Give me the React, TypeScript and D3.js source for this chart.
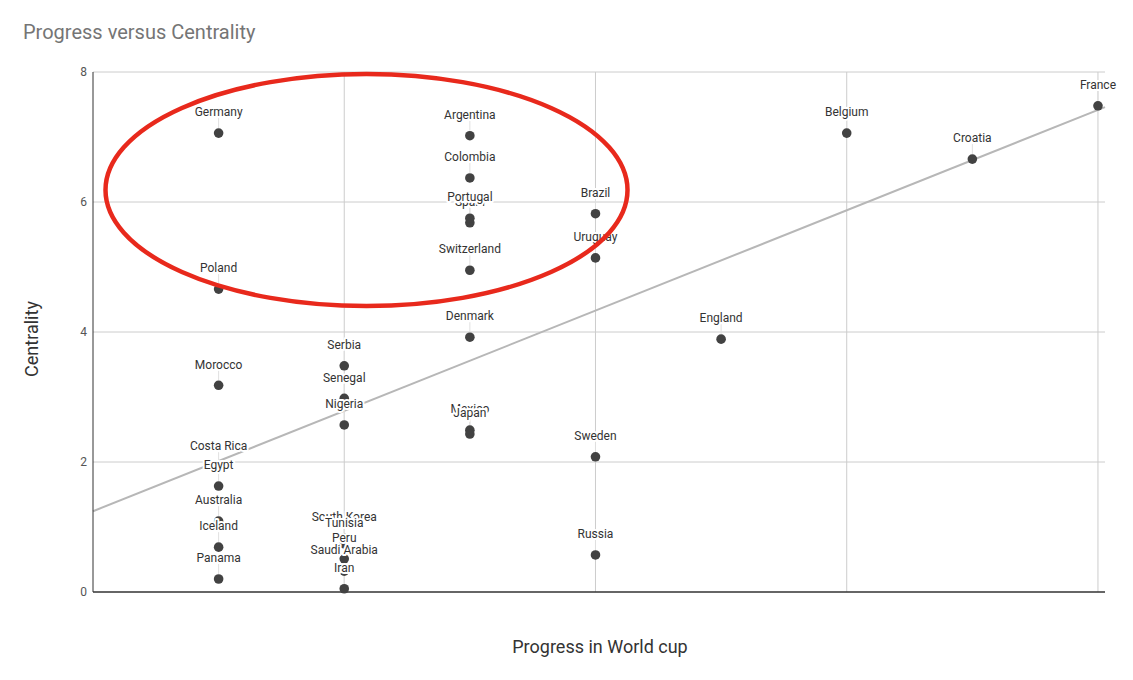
import React from "react";
import * as d3 from "d3";

const teams = [
  "Germany", "Poland", "Morocco", "Costa Rica", "Egypt", "Australia", "Iceland", "Panama",
  "Serbia", "Senegal", "Nigeria", "South Korea", "Tunisia", "Peru", "Saudi Arabia", "Iran",
  "Argentina", "Colombia", "Spain", "Portugal", "Switzerland", "Denmark", "Mexico", "Japan",
  "Brazil", "Uruguay", "Sweden", "Russia",
  "England", "Belgium", "Croatia", "France",
];
const progress = [
  1, 1, 1, 1, 1, 1, 1, 1,
  2, 2, 2, 2, 2, 2, 2, 2,
  3, 3, 3, 3, 3, 3, 3, 3,
  4, 4, 4, 4,
  5, 6, 7, 8,
];
const centrality = [
  7.06, 4.66, 3.18, 1.92, 1.63, 1.09, 0.69, 0.2,
  3.48, 2.98, 2.57, 0.83, 0.74, 0.51, 0.32, 0.05,
  7.02, 6.37, 5.68, 5.75, 4.95, 3.92, 2.49, 2.43,
  5.82, 5.14, 2.08, 0.57,
  3.89, 7.06, 6.66, 7.48,
];
const yTicks = [0, 2, 4, 6, 8];
const xGrid = [2, 4, 6, 8];

const W = 1133;
const H = 680;
const FONT = "Roboto, 'Noto Sans', Arial, sans-serif";

export default function App() {
  const x = d3.scaleLinear().domain([0, 8.056]).range([93, 1105]);
  const y = d3.scaleLinear().domain([0, 8]).range([592, 72]);

  const pts = teams.map((t, i) => ({ t, x: progress[i], y: centrality[i], i }));

  // least-squares trendline
  const mx = d3.mean(progress) as number;
  const my = d3.mean(centrality) as number;
  const sxy = d3.sum(progress, (v, i) => (v - mx) * (centrality[i] - my));
  const sxx = d3.sum(progress, (v) => (v - mx) * (v - mx));
  const slope = sxy / sxx;
  const icpt = my - slope * mx;
  const [x0, x1] = x.domain();
  const trend = d3.line<number>().x((d) => x(d)).y((d) => y(icpt + slope * d))([x0, x1]);

  return (
    <svg width={W} height={H} style={{ position: "absolute", left: 0, top: 0, background: "#fff" }} fontFamily={FONT}>
      <text x={23} y={39} fontSize={20} fill="#757575">Progress versus Centrality</text>

      {yTicks.map((v) => (
        <g key={"y" + v}>
          {v > 0 && <line x1={x(0)} x2={1105} y1={y(v)} y2={y(v)} stroke="#cccccc" strokeWidth={1} />}
          <text x={87} y={y(v)} dy="0.35em" textAnchor="end" fontSize={12} fill="#555">{v}</text>
        </g>
      ))}
      {xGrid.map((v) => (
        <line key={"x" + v} x1={x(v)} x2={x(v)} y1={y(8)} y2={y(0)} stroke="#cccccc" strokeWidth={1} />
      ))}

      <path d={trend || ""} stroke="#b7b7b7" strokeWidth={2} fill="none" />

      <line x1={x(0)} x2={x(0)} y1={y(8)} y2={y(0)} stroke="#333" strokeWidth={1} />
      <line x1={x(0)} x2={1105} y1={y(0)} y2={y(0)} stroke="#333" strokeWidth={1.5} />

      {pts.map((p) => (
        <line key={"s" + p.i} x1={x(p.x)} x2={x(p.x)} y1={y(p.y) - 15} y2={y(p.y) - 5} stroke="#e0e0e0" strokeWidth={1} />
      ))}
      {pts.map((p) => (
        <circle key={"c" + p.i} cx={x(p.x)} cy={y(p.y)} r={4.8} fill="#424242" />
      ))}
      {pts.map((p) => (
        <text
          key={"l" + p.i}
          x={x(p.x)}
          y={y(p.y) - 21}
          dy="0.35em"
          textAnchor="middle"
          fontSize={12}
          fill="#333"
          stroke="#fff"
          strokeWidth={4}
          strokeLinejoin="round"
          style={{ paintOrder: "stroke" }}
        >
          {p.t}
        </text>
      ))}

      <ellipse cx={366.5} cy={190} rx={261} ry={116} fill="none" stroke="#e8291c" strokeWidth={4.5} />

      <text x={600} y={653} textAnchor="middle" fontSize={18} fill="#333">Progress in World cup</text>
      <text transform="translate(38,339) rotate(-90)" textAnchor="middle" fontSize={18} fill="#333">Centrality</text>
    </svg>
  );
}
